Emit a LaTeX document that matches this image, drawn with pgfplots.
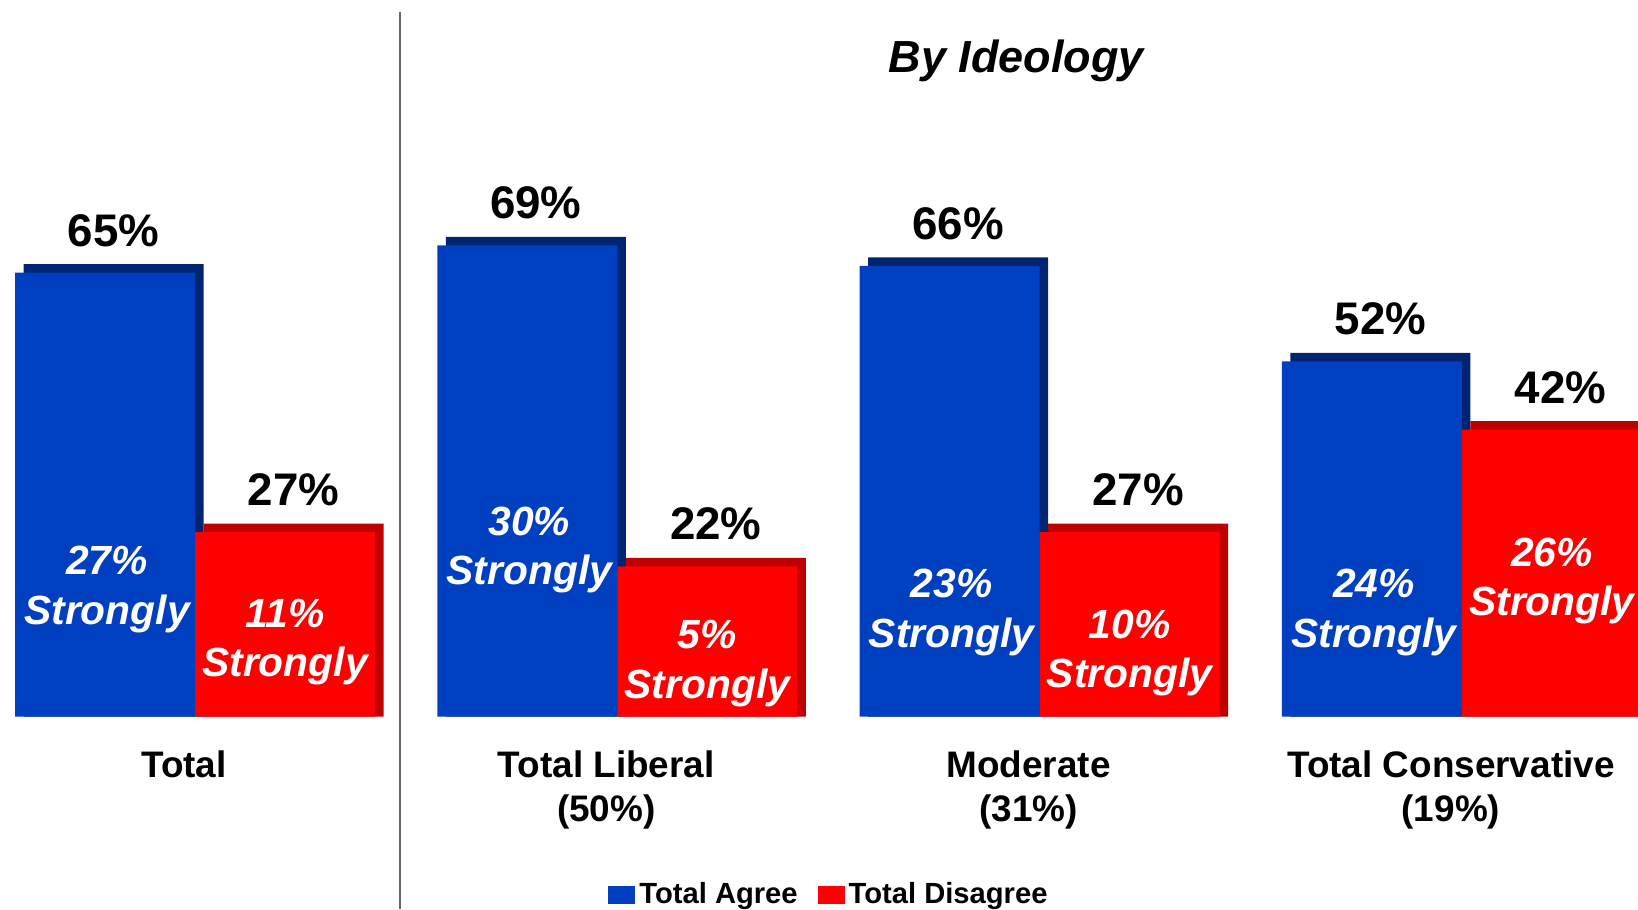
\documentclass[border=0pt]{standalone}
\usepackage{fontspec}
\setmainfont{Liberation Sans}
\usepackage{pgfplots}
\pgfplotsset{compat=1.18}

\definecolor{agree}{RGB}{0,64,192}
\definecolor{agreedark}{RGB}{0,36,112}
\definecolor{disagree}{RGB}{255,0,0}
\definecolor{disagreedark}{RGB}{192,0,0}

\begin{document}
\begin{tikzpicture}
\begin{axis}[
    name=ax,
    scale only axis, width=163.8mm, height=91mm,
    xmin=-0.4618, xmax=3.4170, ymin=-28.32, ymax=104.92,
    /pgf/number format/assume math mode=true,
    axis line style={draw=none}, ytick=\empty,
    xtick={0,1,2,3}, major tick length=0pt,
    xticklabels={Total, {Total Liberal\\(50\%)}, {Moderate\\(31\%)}, {Total Conservative\\(19\%)}},
    xticklabel style={align=center, font=\fontsize{10.5}{12.5}\selectfont\bfseries,
        anchor=north, inner sep=0pt, yshift=16.0mm, xshift=-1.1mm},
    ybar, bar width=18mm,
    legend style={at={(0.5067,0.0163)}, anchor=center, draw=none, fill=none,
        legend columns=2, font=\fontsize{8.3}{9}\selectfont\bfseries, inner sep=0pt,
        nodes={inner sep=0.4mm},
        /tikz/every even column/.append style={column sep=1.6mm}},
    legend image code/.code={\fill[#1] (0mm,-0.9mm) rectangle (2.7mm,0.9mm);},
]
% blue: depth face, then front face
\addplot[forget plot, fill=agreedark, draw=none, bar shift=-8.15mm,
    nodes near coords={\pgfmathprintnumber{\pgfplotspointmeta}\%}, point meta=explicit,
    every node near coord/.append style={font=\fontsize{13}{13}\selectfont\bfseries,
        anchor=base, yshift=1.8mm, inner sep=0pt, text=black}]
    coordinates {(0,66.25)[65] (1,70.25)[69] (2,67.25)[66] (3,53.25)[52]};
\addplot[fill=agree, draw=none, bar shift=-9mm]
    coordinates {(0,65) (1,69) (2,66) (3,52)};
% red: depth face, then front face
\addplot[forget plot, fill=disagreedark, draw=none, bar shift=9.85mm,
    nodes near coords={\pgfmathprintnumber{\pgfplotspointmeta}\%}, point meta=explicit,
    every node near coord/.append style={font=\fontsize{13}{13}\selectfont\bfseries,
        anchor=base, yshift=1.8mm, inner sep=0pt, text=black}]
    coordinates {(0,28.25)[27] (1,23.25)[22] (2,28.25)[27] (3,43.25)[42]};
\addplot[fill=disagree, draw=none, bar shift=9mm]
    coordinates {(0,27) (1,22) (2,27) (3,42)};
% "strongly" shares inside the bars
\addplot[forget plot, draw=none, fill=none, bar shift=-8.8mm,
    nodes near coords={\pgfmathprintnumber{\pgfplotspointmeta}\%\\Strongly}, point meta=explicit,
    every node near coord/.append style={font=\fontsize{11.6}{14}\selectfont\bfseries\itshape,
        anchor=center, align=center, inner sep=0pt, text=white}]
    coordinates {(0,18.6)[27] (1,24.35)[30] (2,15.25)[23] (3,15.25)[24]};
\addplot[forget plot, draw=none, fill=none, bar shift=9mm,
    nodes near coords={\pgfmathprintnumber{\pgfplotspointmeta}\%\\Strongly}, point meta=explicit,
    every node near coord/.append style={font=\fontsize{11.6}{14}\selectfont\bfseries\itshape,
        anchor=center, align=center, inner sep=0pt, text=white}]
    coordinates {(0,10.85)[11] (1,7.75)[5] (2,9.25)[10] (3,19.85)[26]};
\legend{Total Agree, Total Disagree}
\draw[black!60, line width=0.15mm] (rel axis cs:0.2442,0.0011) -- (rel axis cs:0.2442,0.9863);
\node[font=\fontsize{12.8}{13}\selectfont\bfseries\itshape] at (rel axis cs:0.6203,0.933) {By Ideology};
\end{axis}
\pgfresetboundingbox
\path (ax.south west) rectangle (ax.north east);
\end{tikzpicture}
\end{document}
